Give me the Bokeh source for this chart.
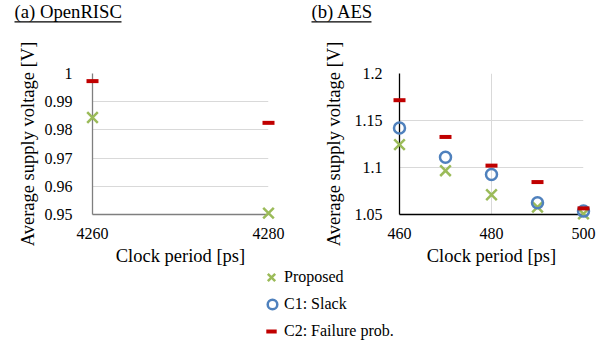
from bokeh.plotting import figure
from bokeh.models import (ColumnDataSource, FixedTicker, NumeralTickFormatter, Range1d,
                          Label, BoxAnnotation, Legend, LegendItem)
from bokeh.layouts import column, row
from bokeh.embed import file_html
from bokeh.resources import INLINE

FONT = "Liberation Serif"
GREEN = "#9BBB59"
BLUE = "#4F81BD"
RED = "#C00000"

# (a) OpenRISC
or_period = [4260, 4280]
or_proposed = [0.9844, 0.9505]
or_c2 = [0.9973, 0.9825]
or_yticks = [0.95, 0.96, 0.97, 0.98, 0.99, 1.0]
or_xticks = [4260, 4280]

# (b) AES
aes_period = [460, 470, 480, 490, 500]
aes_proposed = [1.1243, 1.0966, 1.0710, 1.0578, 1.0507]
aes_c1 = [1.1420, 1.1108, 1.0926, 1.0624, 1.0536]
aes_c2 = [1.1716, 1.1325, 1.1020, 1.0845, 1.0565]
aes_yticks = [1.05, 1.1, 1.15, 1.2]
aes_xticks = [460, 480, 500]

series_names = ["Proposed", "C1: Slack", "C2: Failure prob."]
titles = ["(a) OpenRISC", "(b) AES"]

W = 608


def style(p, axis_color):
    p.outline_line_color = None
    p.background_fill_color = "white"
    p.border_fill_color = "white"
    for ax in (p.xaxis[0], p.yaxis[0]):
        ax.axis_line_color = axis_color
        ax.axis_line_width = 1.3
        ax.major_tick_line_color = None
        ax.minor_tick_line_color = None
        ax.major_label_text_font = FONT
        ax.major_label_text_font_size = "16px"
        ax.major_label_text_color = "black"
        ax.axis_label_text_font = FONT
        ax.axis_label_text_font_size = "18.5px"
        ax.axis_label_text_font_style = "normal"
        ax.axis_label_text_color = "black"
    p.xaxis.major_label_standoff = 7
    p.xaxis.axis_label_standoff = 4
    p.xgrid.grid_line_color = "#D9D9D9"
    p.ygrid.grid_line_color = "#D9D9D9"
    p.xaxis.axis_label = "Clock period [ps]"
    p.yaxis.axis_label = "Average supply voltage [V]"
    p.yaxis.formatter = NumeralTickFormatter(format="0.[00]")


# title strip (pixel-unit ranges)
TH = 28
strip = figure(width=W, height=TH, output_backend="svg", toolbar_location=None,
               x_range=Range1d(0, W), y_range=Range1d(0, TH), min_border=0)
strip.axis.visible = False
strip.grid.visible = False
strip.outline_line_color = None
for tx, tw, text in [(14, 107, titles[0]), (311, 60, titles[1])]:
    strip.add_layout(Label(x=tx, y=TH - 11, text=text, text_baseline="alphabetic",
                           text_font=FONT, text_font_size="18.7px", text_color="black"))
    strip.add_layout(BoxAnnotation(left=tx, right=tx + tw, top=TH - 20.8, bottom=TH - 22.1,
                                   fill_color="black", fill_alpha=1, line_color=None))

p1 = figure(frame_width=176, frame_height=141, output_backend="svg", toolbar_location=None,
            x_range=Range1d(4260, 4280), y_range=Range1d(0.95, 1.0),
            min_border_left=92, min_border_right=32, min_border_top=44, min_border_bottom=54)
style(p1, "#7F7F7F")
p1.xaxis.ticker = FixedTicker(ticks=or_xticks)
p1.yaxis.ticker = FixedTicker(ticks=or_yticks)
p1.yaxis.major_label_standoff = 14
p1.yaxis.axis_label_standoff = 4
src1 = ColumnDataSource(dict(x=or_period, prop=or_proposed, c2=or_c2))
p1.scatter("x", "prop", source=src1, marker="x", size=15, line_color=GREEN, line_width=2.5, level="overlay")
p1.scatter("x", "c2", source=src1, marker="dash", size=12, line_color=RED, line_width=4, level="overlay")

p2 = figure(frame_width=184, frame_height=141, output_backend="svg", toolbar_location=None,
            x_range=Range1d(460, 500), y_range=Range1d(1.05, 1.2),
            min_border_left=99, min_border_right=25, min_border_top=45, min_border_bottom=53)
style(p2, "black")
p2.xaxis.ticker = FixedTicker(ticks=aes_xticks)
p2.yaxis.ticker = FixedTicker(ticks=aes_yticks)
p2.yaxis.major_label_standoff = 11
p2.yaxis.axis_label_standoff = 8
src2 = ColumnDataSource(dict(x=aes_period, prop=aes_proposed, c1=aes_c1, c2=aes_c2))
p2.scatter("x", "prop", source=src2, marker="x", size=15, line_color=GREEN, line_width=2.5, level="overlay")
p2.scatter("x", "c1", source=src2, marker="circle", size=11, fill_color=None, line_color=BLUE, line_width=2.5, level="overlay")
p2.scatter("x", "c2", source=src2, marker="dash", size=12, line_color=RED, line_width=4, level="overlay")

LH = 76
leg = figure(width=W, height=LH, output_backend="svg", toolbar_location=None,
             x_range=Range1d(0, 1), y_range=Range1d(0, 1), min_border=0)
leg.axis.visible = False
leg.grid.visible = False
leg.outline_line_color = None
dummy = ColumnDataSource(dict(x=[-10.0], y=[-10.0]))
r_a = leg.scatter("x", "y", source=dummy, marker="x", line_color=GREEN, line_width=2.5)
r_b = leg.scatter("x", "y", source=dummy, marker="circle", fill_color=None, line_color=BLUE, line_width=2.5)
r_c = leg.scatter("x", "y", source=dummy, marker="dash", line_color=RED, line_width=4)

# one legend per entry so each legend glyph gets its own size (size = 0.4 * box)
TX = 284                    # label start, px
rows_from_bottom = [67, 40, 13]
boxes = [26, 24, 26]
for name, rend, yc, b in zip(series_names, [r_a, r_b, r_c], rows_from_bottom, boxes):
    lg = Legend(items=[LegendItem(label=name, renderers=[rend])],
                location=(TX - b, yc - b / 2), glyph_width=b, glyph_height=b, label_height=b,
                spacing=0, padding=0, margin=0, label_standoff=0,
                label_text_font=FONT, label_text_font_size="16px", label_text_color="black",
                border_line_color=None, background_fill_alpha=0)
    lg.label_text_font = FONT
    leg.add_layout(lg)

layout = column(strip, row(p1, p2), leg)
open("out.html", "w").write(file_html(layout, INLINE))
